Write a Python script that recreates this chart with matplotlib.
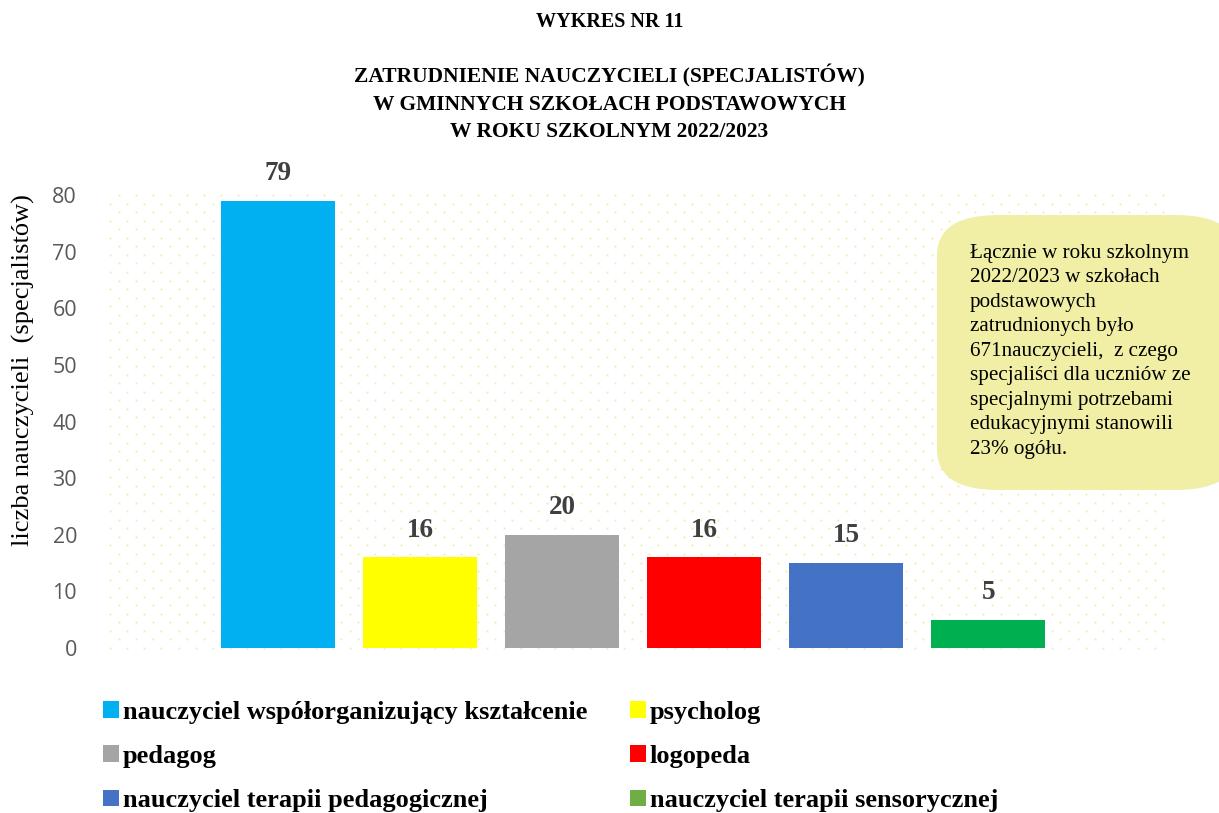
import numpy as np
import matplotlib.pyplot as plt
from matplotlib.patches import Patch, FancyBboxPatch

# data
categories = ['nauczyciel współorganizujący kształcenie', 'psycholog', 'pedagog',
              'logopeda', 'nauczyciel terapii pedagogicznej', 'nauczyciel terapii sensorycznej']
values = [79, 16, 20, 16, 15, 5]
bar_colors = ['#00B0F0', '#FFFF00', '#A5A5A5', '#FF0000', '#4472C4', '#00B050']
legend_colors = ['#00B0F0', '#FFFF00', '#A5A5A5', '#FF0000', '#4472C4', '#70AD47']
yticks = [0, 10, 20, 30, 40, 50, 60, 70, 80]

serif = 'Liberation Serif'

fig = plt.figure(figsize=(12.19, 8.13), dpi=100)
ax = fig.add_axes([0.086, 0.203, 0.8656, 0.557])

# dotted background like the original
gx, gy = np.meshgrid(np.linspace(0.005, 0.995, 62), np.linspace(0.0, 1.0, 54))
gx = gx + (np.arange(54)[:, None] % 2) * 0.008
ax.scatter(gx.ravel(), gy.ravel(), s=2.2, color='#EDEDA8', transform=ax.transAxes,
           zorder=0, clip_on=False, linewidths=0)

x = np.arange(len(values))
bars = ax.bar(x, values, width=0.8, color=bar_colors, zorder=2)
for xi, v in zip(x, values):
    ax.text(xi, v + 2.6, str(v), ha='center', va='bottom', fontsize=19.5,
            fontweight='bold', family=serif, color='#404040')

ax.set_xlim(-1.22, 6.21)
ax.set_ylim(0, 80)
ax.set_yticks(yticks)
ax.set_xticks([])
ax.tick_params(axis='y', length=0, labelsize=15.5, labelcolor='#595959', pad=20)
for lab in ax.get_yticklabels():
    lab.set_family('Open Sans')
for s in ax.spines.values():
    s.set_visible(False)
ax.set_ylabel('liczba nauczycieli  (specjalistów)', family=serif, fontsize=19)
ax.yaxis.set_label_coords(-0.066, 0.614)

# titles
fig.text(0.5, 1 - 22 / 813, 'WYKRES NR 11', ha='center', va='center', family=serif,
         fontsize=14.5, fontweight='bold')
fig.text(0.5, 1 - 103 / 813, 'ZATRUDNIENIE NAUCZYCIELI (SPECJALISTÓW)\nW GMINNYCH SZKOŁACH PODSTAWOWYCH\nW ROKU SZKOLNYM 2022/2023',
         ha='center', va='center', family=serif, fontsize=15.5, fontweight='bold',
         linespacing=1.5)

# note box
box = FancyBboxPatch((937 / 1219, 1 - 490 / 813), 300 / 1219, 275 / 813,
                     boxstyle='round,pad=0,rounding_size=0.05', transform=fig.transFigure,
                     facecolor='#F0EFA5', edgecolor='none', zorder=5)
fig.patches.append(box)
fig.text(970 / 1219, 1 - 244 / 813,
         'Łącznie w roku szkolnym\n2022/2023 w szkołach\npodstawowych\nzatrudnionych było\n'
         '671nauczycieli,  z czego\nspecjaliści dla uczniów ze\nspecjalnymi potrzebami\n'
         'edukacyjnymi stanowili\n23% ogółu.',
         ha='left', va='top', family=serif, fontsize=15.2, linespacing=1.39, zorder=6)

# legend, row order like in the original
order = [0, 2, 4, 1, 3, 5]
handles = [Patch(facecolor=legend_colors[i], label=categories[i]) for i in order]
fig.legend(handles=handles, ncol=2, loc='upper left', bbox_to_anchor=(103 / 1219, 1 - 701 / 813),
           frameon=False, borderpad=0, borderaxespad=0,
           handlelength=0.6, handleheight=0.6, handletextpad=0.15,
           columnspacing=1.62, labelspacing=0.8,
           prop={'family': serif, 'weight': 'bold', 'size': 19})

fig.savefig('out.png', dpi=100)
